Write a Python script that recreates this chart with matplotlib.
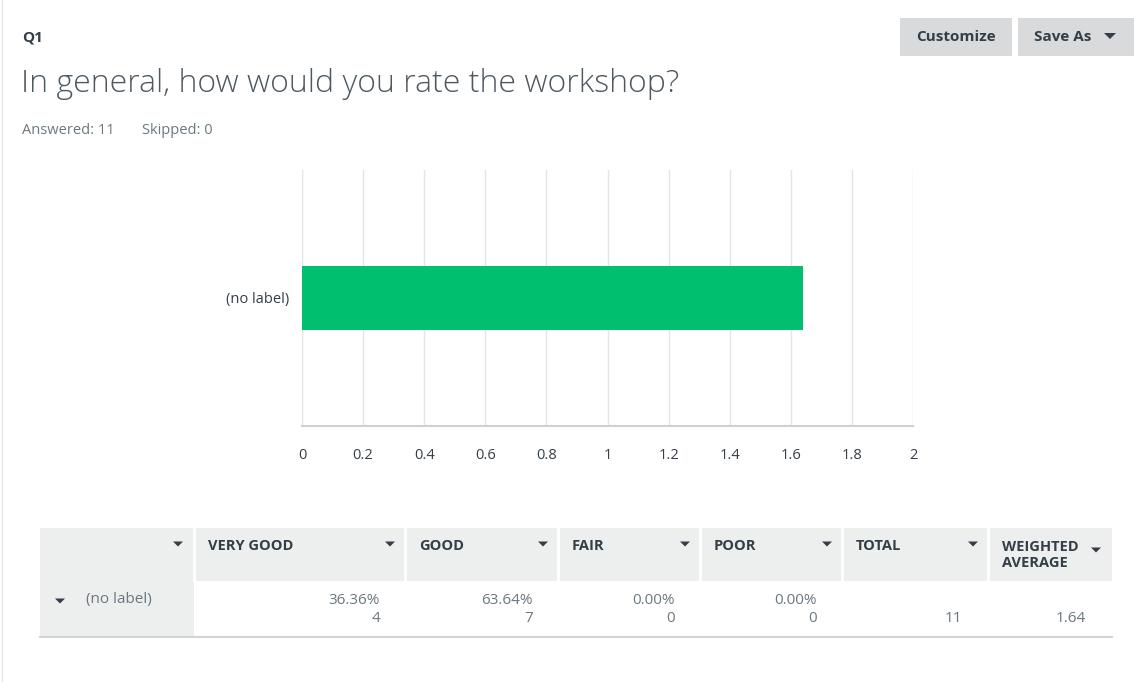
import matplotlib.pyplot as plt
from matplotlib.patches import Rectangle, Polygon
from matplotlib.lines import Line2D

# data
question_id = "Q1"
question = "In general, how would you rate the workshop?"
answered = 11
skipped = 0
categories = ["(no label)"]
weighted_avg = [1.64]
x_ticks = [0, 0.2, 0.4, 0.6, 0.8, 1, 1.2, 1.4, 1.6, 1.8, 2]
columns = ["VERY GOOD", "GOOD", "FAIR", "POOR", "TOTAL", "WEIGHTED\nAVERAGE"]
pcts = [36.36, 63.64, 0.00, 0.00]
counts = [4, 7, 0, 0]
total = 11

W, H = 1134, 682
plt.rcParams['font.family'] = ['Open Sans', 'DejaVu Sans']

dark = '#333e48'
grey = '#6b787f'
head_bg = '#edeeee'
green = '#00bf6f'

fig = plt.figure(figsize=(W / 100, H / 100), dpi=100)
fig.patch.set_facecolor('white')


def fx(x):
    return x / W


def fy(y):
    return 1 - y / H


def txt(x, y, s, **kw):
    kw.setdefault('color', dark)
    kw.setdefault('va', 'center')
    fig.text(fx(x), fy(y), s, **kw)


def rect(x0, y0, x1, y1, color):
    fig.add_artist(Rectangle((fx(x0), fy(y1)), fx(x1 - x0), (y1 - y0) / H,
                             transform=fig.transFigure, facecolor=color,
                             edgecolor='none', zorder=0))


def tri(x, y, w=10, h=5):
    # small dropdown arrow, pixel sized
    pts = [(fx(x - w / 2), fy(y - h / 2)), (fx(x + w / 2), fy(y - h / 2)),
           (fx(x), fy(y + h / 2))]
    fig.add_artist(Polygon(pts, closed=True, transform=fig.transFigure,
                           facecolor=dark, edgecolor='none', zorder=3))


# left page border
fig.add_artist(Line2D([fx(2), fx(2)], [0, 1], transform=fig.transFigure,
                      color='#e6e6e6', lw=1))

# header
txt(22, 38, question_id, fontsize=11, fontweight='bold')
txt(21, 84, question, fontsize=23, color='#4d5860', fontweight='light')
txt(22, 130, f"Answered: {answered}", fontsize=10.5, color=grey)
txt(142, 130, f"Skipped: {skipped}", fontsize=10.5, color=grey)

# buttons
rect(900, 18, 1012, 56, '#d9dadb')
rect(1018, 18, 1134, 56, '#d9dadb')
txt(956, 37, "Customize", fontsize=11, fontweight='bold', ha='center')
txt(1063, 37, "Save As", fontsize=11, fontweight='bold', ha='center')
tri(1110, 36, 12, 6)

# bar chart
ax = fig.add_axes([fx(302), fy(426), (913 - 302) / W, (426 - 170) / H])
ax.barh(categories, weighted_avg, height=0.25, color=green, zorder=3)
ax.set_xlim(0, 2)
ax.set_ylim(-0.5, 0.5)
ax.set_xticks(x_ticks)
ax.set_xticklabels([f"{t:g}" for t in x_ticks])
ax.grid(axis='x', color='#e5e5e5', lw=1, zorder=0)
ax.tick_params(axis='x', length=0, pad=16, labelsize=10.5, labelcolor=dark)
ax.tick_params(axis='y', length=0, pad=9, labelsize=10.5, labelcolor=dark)
for s in ['top', 'right']:
    ax.spines[s].set_visible(False)
ax.spines['left'].set_color('#e5e5e5')
ax.spines['bottom'].set_color('#d0d0d0')
ax.spines['bottom'].set_linewidth(1.5)

# table
col_edges = [40, 194, 405, 558, 700, 842, 988, 1112]
rect(40, 528, 1112, 581, head_bg)
rect(40, 581, 194, 637, head_bg)
for xe in col_edges[1:-1]:
    fig.add_artist(Line2D([fx(xe), fx(xe)], [fy(528), fy(581)],
                          transform=fig.transFigure, color='white', lw=2))
fig.add_artist(Line2D([fx(40), fx(1112)], [fy(637), fy(637)],
                      transform=fig.transFigure, color='#d4d4d4', lw=1.5))

tri(178, 544)
for i, name in enumerate(columns):
    x0, x1 = col_edges[i + 1], col_edges[i + 2]
    if "\n" in name:
        txt(x0 + 14, 555, name, fontsize=10.5, fontweight='bold',
            linespacing=1.2)
        tri(x1 - 16, 550)
    else:
        txt(x0 + 14, 546, name, fontsize=10.5, fontweight='bold')
        tri(x1 - 15, 544)

tri(60, 601)
txt(86, 600, categories[0], fontsize=11, color=grey)
for i, (p, c) in enumerate(zip(pcts, counts)):
    xr = col_edges[i + 2] - 25
    txt(xr, 600, f"{p:.2f}%", fontsize=11, color=grey, ha='right')
    txt(xr, 619, f"{c}", fontsize=11, color=grey, ha='right')
txt(962, 619, f"{total}", fontsize=11, color=grey, ha='right')
txt(1086, 619, f"{weighted_avg[0]:.2f}", fontsize=11, color=grey, ha='right')

fig.savefig('out.png', dpi=100, facecolor='white')
